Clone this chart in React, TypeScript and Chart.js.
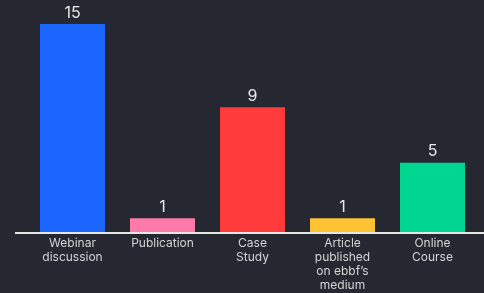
import React, { useEffect, useRef } from "react";
import { Chart, registerables } from "chart.js";

Chart.register(...registerables);

const categories: (string | string[])[] = [
  ["Webinar", "discussion"],
  "Publication",
  ["Case", "Study"],
  ["Article", "published", "on ebbf’s", "medium"],
  ["Online", "Course"],
];
const values = [15, 1, 9, 1, 5];
const barColors = ["#1a66ff", "#ff7aa8", "#ff3b3b", "#ffc234", "#00d68f"];

const BG = "#252830";

const valueLabels = {
  id: "valueLabels",
  afterDatasetsDraw(chart: any) {
    const ctx = chart.ctx;
    const meta = chart.getDatasetMeta(0);
    ctx.save();
    ctx.fillStyle = "#e8e8e8";
    ctx.font = "16px Inter, 'Open Sans', sans-serif";
    ctx.textAlign = "center";
    ctx.textBaseline = "bottom";
    meta.data.forEach((bar: any, i: number) => {
      ctx.fillText(String(values[i]), bar.x, bar.y - 3);
    });
    ctx.restore();
  },
};

const baseLine = {
  id: "baseLine",
  afterDatasetsDraw(chart: any) {
    const ctx = chart.ctx;
    const y = chart.chartArea.bottom;
    ctx.save();
    ctx.strokeStyle = "#e6e6e6";
    ctx.lineWidth = 2;
    ctx.beginPath();
    ctx.moveTo(15, y + 1);
    ctx.lineTo(chart.width, y + 1);
    ctx.stroke();
    ctx.restore();
  },
};

const bgPlugin = {
  id: "bg",
  beforeDraw(chart: any) {
    const ctx = chart.ctx;
    ctx.save();
    ctx.fillStyle = BG;
    ctx.fillRect(0, 0, chart.width, chart.height);
    ctx.restore();
  },
};

export default function App() {
  const ref = useRef<HTMLCanvasElement>(null);
  useEffect(() => {
    document.body.style.margin = "0";
    document.body.style.background = BG;
    const chart = new Chart(ref.current!, {
      type: "bar",
      data: {
        labels: categories,
        datasets: [
          {
            data: values,
            backgroundColor: barColors,
            borderWidth: 0,
            categoryPercentage: 1,
            barPercentage: 0.722,
          },
        ],
      },
      options: {
        animation: false,
        responsive: false,
        layout: { padding: { top: 10, left: 27.5, right: 6.5, bottom: 0 } },
        plugins: { legend: { display: false }, tooltip: { enabled: false } },
        scales: {
          y: { display: false, min: 0, max: 16 },
          x: {
            grid: { display: false },
            border: { display: false },
            ticks: {
              color: "#d4d4d4",
              font: { size: 12, family: "Inter, 'Open Sans', sans-serif", lineHeight: 1.17 },
              padding: -4,
              maxRotation: 0,
              autoSkip: false,
            },
            afterFit(scale: any) {
              scale.height = 61;
            },
          },
        },
      },
      plugins: [bgPlugin, baseLine, valueLabels],
    });
    return () => chart.destroy();
  }, []);
  return <canvas ref={ref} width={484} height={293} style={{ display: "block" }} />;
}
